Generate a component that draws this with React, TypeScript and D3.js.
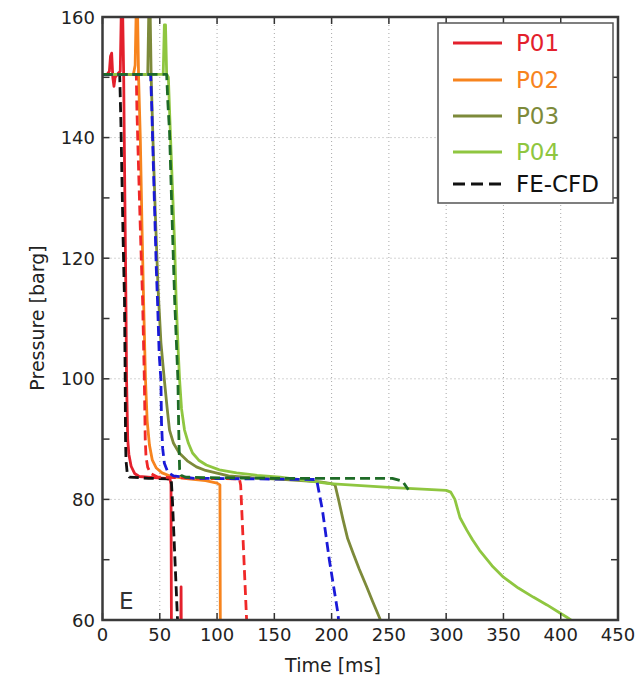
import React from 'react';
import * as d3 from 'd3';

// measured sensor traces [time ms, pressure barg]
const p01: [number, number][] = [
  [0, 150.5], [4, 150.5], [6, 151], [7, 153.5], [8, 154], [9, 150], [10, 148.5], [11, 150],
  [13, 150.5], [15.5, 151], [16.5, 162], [17.5, 162], [18.5, 150], [19, 140], [19.8, 125],
  [20.5, 112], [21, 100], [22, 90], [23, 87.5], [25, 85.5], [28, 84.3], [32, 83.8], [45, 83.6],
  [55, 83.5], [59, 83.3], [59.8, 82.5], [60.3, 50], [68, 50], [68.6, 65.5], [69, 50],
];
const p02: [number, number][] = [
  [0, 150.5], [27, 150.5], [28.5, 152], [29.5, 162], [30.5, 162], [31.5, 150], [33, 140],
  [34.5, 125], [36, 112], [37.5, 100], [39, 93], [41, 89], [43.5, 86.5], [47, 85.2], [52, 84.4],
  [60, 83.8], [75, 83.4], [90, 83.1], [100, 82.7], [102.5, 82.4], [103, 50],
];
const p03: [number, number][] = [
  [0, 150.5], [39.5, 150.5], [40.5, 162], [41.5, 162], [42.5, 150], [44, 140], [46, 128],
  [48.5, 115], [51, 106], [54, 99.8], [56.5, 95], [58.5, 91.5], [62, 89.3], [67, 87.7],
  [74, 86.4], [82, 85.4], [90, 84.8], [99, 84.4], [110, 83.9], [130, 83.6], [160, 83.3],
  [190, 82.9], [200, 82.6], [203, 82.4], [206, 80], [210, 76.6], [214, 73.5], [218.7, 71.1],
  [224, 68.5], [230.6, 65.5], [236, 63], [242, 60.3], [244, 59],
];
const p04: [number, number][] = [
  [0, 150.5], [53, 150.5], [54, 158.7], [55, 158.7], [56, 150.5], [57.5, 150], [59, 142],
  [61, 132], [63, 122], [64.3, 113], [66, 105], [67.3, 99.8], [69, 95], [71.6, 91.5],
  [75, 89.3], [78.6, 87.7], [84, 86.5], [90.6, 85.7], [102, 84.9], [117, 84.4], [135, 84],
  [155, 83.7], [198, 82.6], [250, 82], [300, 81.5], [304, 81.2], [307.6, 80], [312, 77],
  [318, 74.9], [323, 73.3], [329, 71.6], [340, 69], [350, 67.1], [363, 65.3], [376, 63.8],
  [388, 62.5], [399, 61.2], [405, 60.5], [412, 59.6],
];

// FE-CFD simulation traces
const cfd01: [number, number][] = [
  [0, 150.5], [15, 150.5], [16, 143], [17, 133], [18, 123], [19.2, 113], [19.8, 100],
  [20.1, 90], [20.5, 86.5], [21.5, 84.5], [23.5, 83.7], [40, 83.5], [60, 83.4], [61, 80],
  [65.5, 60], [66, 58],
];
const cfd02: [number, number][] = [
  [0, 150.5], [29.5, 150.5], [30, 145], [31, 138], [33, 125], [35, 113], [36.5, 100],
  [37.3, 90], [38, 87], [39.5, 85.3], [42, 84.3], [48, 83.7], [80, 83.5], [119.5, 83.4],
  [120.6, 82.4], [125.8, 60], [126.2, 58],
];
const cfd03: [number, number][] = [
  [0, 150.5], [42, 150.5], [43, 145], [44, 138], [45.5, 128], [47, 118], [48, 113],
  [49.5, 104], [51, 99.8], [51.5, 92.7], [52.5, 88.5], [54, 86], [57, 84.5], [62, 83.9],
  [80, 83.5], [186, 83.3], [187, 83.2], [192, 78.2], [198, 70], [205.6, 61], [206.5, 59],
];
const cfd04: [number, number][] = [
  [0, 150.5], [56, 150.5], [57, 146], [58.5, 141], [61, 125], [63, 113], [65.8, 100],
  [66.5, 92], [67.3, 85], [68.5, 84], [72, 83.7], [90, 83.6], [150, 83.5], [253, 83.5],
  [262, 83], [267, 81.6],
];

const xTicks = [0, 50, 100, 150, 200, 250, 300, 350, 400, 450];
const yTicks = [60, 80, 100, 120, 140, 160];
const yMinorTicks = [60, 70, 80, 90, 100, 110, 120, 130, 140, 150, 160];

const solids = [
  { name: 'P01', data: p01, color: '#e3202c' },
  { name: 'P02', data: p02, color: '#f7841e' },
  { name: 'P03', data: p03, color: '#7d8a3a' },
  { name: 'P04', data: p04, color: '#8fc640' },
];
const dashed = [
  { data: cfd01, color: '#111111' },
  { data: cfd02, color: '#f02828' },
  { data: cfd03, color: '#1a1ad8' },
  { data: cfd04, color: '#1e6b26' },
];

const FONT = 'DejaVu Sans';

const App = () => {
  const left = 102.5, right = 618, top = 17, bottom = 620;
  const x = d3.scaleLinear().domain([0, 450]).range([left, right]);
  const y = d3.scaleLinear().domain([60, 160]).range([bottom, top]);
  const line = d3.line<[number, number]>().x(d => x(d[0])).y(d => y(d[1]));

  const legendRows = [
    ...solids.map(s => ({ label: s.name, color: s.color, textColor: s.color, dash: '' })),
    { label: 'FE-CFD', color: '#111111', textColor: '#111111', dash: '12,6' },
  ];
  const rowY = [43, 80, 116, 152, 184];

  return (
    <svg width={643} height={683} style={{ position: 'absolute', left: 0, top: 0, background: '#fff' }}>
      <defs>
        <clipPath id="plot">
          <rect x={left} y={top} width={right - left} height={bottom - top} />
        </clipPath>
      </defs>
      <rect width={643} height={683} fill="#fff" />

      {/* grid */}
      <g stroke="#a8a8a8" strokeWidth={1} strokeDasharray="1,3">
        {xTicks.slice(1, -1).map(t => (
          <line key={t} x1={x(t)} x2={x(t)} y1={top} y2={bottom} />
        ))}
        {yTicks.slice(1, -1).map(t => (
          <line key={t} x1={left} x2={right} y1={y(t)} y2={y(t)} />
        ))}
      </g>

      {/* series */}
      <g clipPath="url(#plot)" fill="none" strokeLinejoin="round">
        {solids.map(s => (
          <path key={s.name} d={line(s.data) ?? ''} stroke={s.color} strokeWidth={2.8} />
        ))}
        {dashed.map((s, i) => (
          <path key={i} d={line(s.data) ?? ''} stroke={s.color} strokeWidth={2.8} strokeDasharray="10,5" />
        ))}
      </g>

      {/* ticks */}
      <g stroke="#333" strokeWidth={1.5}>
        {xTicks.map(t => (
          <g key={t}>
            <line x1={x(t)} x2={x(t)} y1={bottom} y2={bottom - 7} />
            <line x1={x(t)} x2={x(t)} y1={top} y2={top + 7} />
          </g>
        ))}
        {yMinorTicks.map(t => (
          <g key={t}>
            <line x1={left} x2={left + 7} y1={y(t)} y2={y(t)} />
            <line x1={right} x2={right - 7} y1={y(t)} y2={y(t)} />
          </g>
        ))}
      </g>

      {/* frame */}
      <rect x={left} y={top} width={right - left} height={bottom - top} fill="none" stroke="#3a3a3a" strokeWidth={2.5} />

      {/* tick labels */}
      <g fontFamily={FONT} fontSize={18} fill="#222">
        {xTicks.map(t => (
          <text key={t} x={x(t)} y={641} textAnchor="middle">{t}</text>
        ))}
        {yTicks.map(t => (
          <text key={t} x={95} y={y(t)} textAnchor="end" dominantBaseline="central">{t}</text>
        ))}
      </g>

      <text x={333} y={672} textAnchor="middle" fontFamily={FONT} fontSize={19} fill="#222">Time [ms]</text>
      <text transform={`translate(44,${318}) rotate(-90)`} textAnchor="middle" fontFamily={FONT} fontSize={19} fill="#222">Pressure [barg]</text>

      <text x={119} y={609} fontFamily={FONT} fontSize={23} fill="#333">E</text>

      {/* legend */}
      <g>
        <rect x={438} y={23} width={175} height={180} fill="#fff" stroke="#555" strokeWidth={1.5} />
        {legendRows.map((r, i) => (
          <g key={r.label}>
            <line x1={453} x2={502} y1={rowY[i]} y2={rowY[i]} stroke={r.color} strokeWidth={2.8} strokeDasharray={r.dash || undefined} />
            <text x={516} y={rowY[i]} dominantBaseline="central" fontFamily={FONT} fontSize={23} fill={r.textColor}>{r.label}</text>
          </g>
        ))}
      </g>
    </svg>
  );
};

export default App;
